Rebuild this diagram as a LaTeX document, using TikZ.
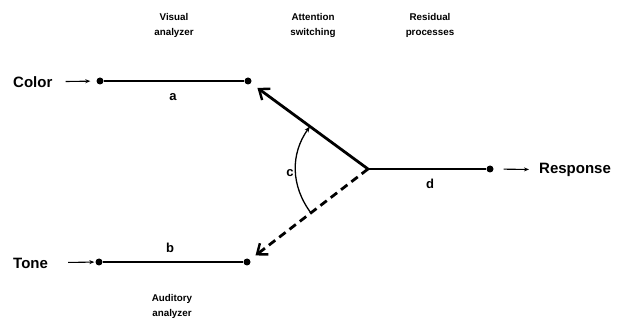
\documentclass[tikz,border=0pt]{standalone}
\usepackage{fontspec}
\setmainfont{Liberation Sans}
\usetikzlibrary{arrows.meta,calc}
\begin{document}
\begin{tikzpicture}[x=1pt,y=-1pt,
  dot/.style={circle,fill,inner sep=0pt,minimum size=7pt},
  big/.style={inner sep=0pt,font=\fontsize{15}{18}\selectfont\bfseries},
  small/.style={inner sep=0pt,align=center,font=\fontsize{9.8}{15}\selectfont\bfseries},
  lab/.style={inner sep=0pt,font=\fontsize{13}{15}\selectfont\bfseries},
  mainline/.style={line width=2.8pt},
  smallarrow/.style={line width=1.1pt,-{Stealth[length=5pt,width=4pt]}},
  bigarrow/.style={line width=2.8pt,-{Straight Barb[length=9pt,width=14pt,line width=2.4pt]}}
]
\useasboundingbox (0,0) rectangle (618,320);
% header labels
\node[small] (hv) at (174,25.5) {Visual\\analyzer};
\node[small] (ha) at (313,25.5) {Attention\\switching};
\node[small] (hr) at (430,25.5) {Residual\\processes};
\node[small] (hau) at (172,306) {Auditory\\analyzer};
% input / output labels
\node[big,anchor=west] (color) at (13,82) {Color};
\node[big,anchor=west] (tone) at (13,263) {Tone};
\node[big,anchor=west] (resp) at (539,170) {Response};
% dots
\node[dot] (a1) at (100,81) {};
\node[dot] (a2) at (248,81) {};
\node[dot] (b1) at (99,262) {};
\node[dot] (b2) at (247,262) {};
\node[dot] (d2) at (490,169) {};
\coordinate (j) at (368,169);
% analyzer lines
\draw[mainline] (a1) -- (a2);
\draw[mainline] (b1) -- (b2);
\draw[mainline] (j) -- (d2);
% input/output arrows
\draw[smallarrow,shorten <=13pt,shorten >=6pt] (color) -- (a1);
\draw[smallarrow,shorten <=20pt,shorten >=1pt] (tone) -- (b1);
\draw[smallarrow,shorten <=10pt,shorten >=10pt] (d2) -- (resp);
% switching arrows
\draw[bigarrow,shorten >=8pt] (j) -- (a2);
\draw[bigarrow,dash pattern=on 8pt off 5pt,shorten >=7pt] (j) -- (b2);
% arc c
\coordinate (c1) at ($(j)!0.484!(a2)$);
\coordinate (c2) at ($(j)!0.472!(b2)$);
\draw[line width=1.3pt,-{Stealth[length=6pt,width=4.5pt]}] (c2) to[bend left=36] (c1);
% labels
\node[lab] (la) at (173,97) {a};
\node[lab] (lb) at (170,248) {b};
\node[lab] (lc) at (290,173) {c};
\node[lab] (ld) at (430,184) {d};
\end{tikzpicture}
\end{document}
